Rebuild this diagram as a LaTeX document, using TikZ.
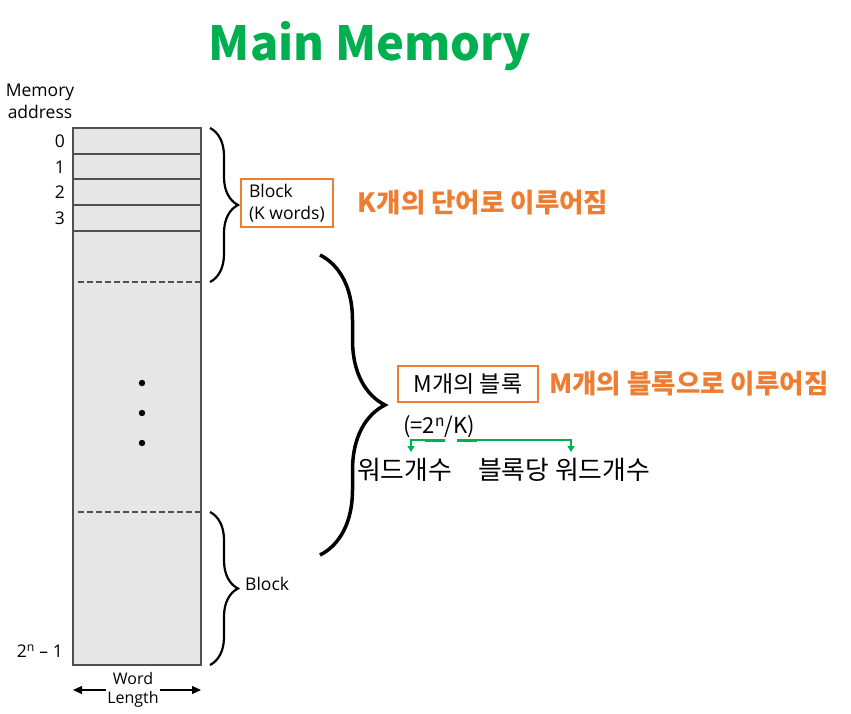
\documentclass[tikz,border=0pt]{standalone}
\usepackage{fontspec}
\setmainfont{Open Sans}
\newfontfamily\kr{Noto Sans CJK KR}
\usetikzlibrary{positioning,arrows.meta,decorations.pathreplacing,calc}
\definecolor{memgreen}{HTML}{00B050}
\definecolor{memorange}{HTML}{ED7D31}
\definecolor{memfill}{HTML}{E6E6E6}
\definecolor{memline}{HTML}{505050}

\begin{document}
\begin{tikzpicture}[
  x=1pt, y=-1pt,
  font=\fontsize{17.5}{22}\selectfont,
  addr/.style={anchor=east, inner sep=0pt},
  row/.style={draw=memline, line width=1.1pt},
  cut/.style={draw=memline, line width=1.1pt, dash pattern=on 5.5pt off 3.5pt},
  brc/.style={decorate, decoration={brace, amplitude=#1}, line width=2.2pt},
  obox/.style={draw=memorange, line width=2pt, inner xsep=5pt, inner ysep=4pt},
  note/.style={font=\kr\bfseries\fontsize{26.5}{28}\selectfont, text=memorange,
               anchor=west, inner sep=0pt},
  kor/.style={font=\kr\fontsize{25.8}{28}\selectfont, inner sep=0pt, anchor=west},
  uline/.style={draw=memgreen, line width=3pt},
  garr/.style={draw=memgreen, line width=2pt, -{Triangle[length=6pt,width=7pt]}},
  larr/.style={-{Triangle[length=9pt,width=8pt]}, line width=1.2pt}
]
\useasboundingbox (0,0) rectangle (851,714);

% title
\node[font=\kr\bfseries\fontsize{47}{52}\selectfont, text=memgreen] (title)
  at (370,46) {Main Memory};

% memory column
\node[align=center, inner sep=0pt] (addrhead) at (40,101) {Memory\\address};
\draw[draw=memline, fill=memfill, line width=1.2pt] (73,128) rectangle (201,665);
\foreach \y in {154,179,205,231}
  \draw[row] (73,\y) -- (201,\y);
\draw[cut] (78,282) -- (201,282);
\draw[cut] (78,512) -- (201,512);
\foreach \a/\y in {0/141,1/167,2/192,3/218}
  \node[addr] (a\a) at (65,\y) {\a};
\node[addr] (alast) at (63,651) {2\textsuperscript{n} – 1};
\foreach \y in {383,413,443}
  \fill (142,\y) circle (3.2pt);

% word length
\node[align=center, inner sep=1.5pt, font=\fontsize{16}{19}\selectfont] (wlen)
  at (133,690) {Word\\Length};
\coordinate (wl) at (73,690);
\coordinate (wr) at (201,690);
\draw[larr] (wlen.west) -- (wl);
\draw[larr] (wlen.east) -- (wr);

% first block
\draw[brc=28pt] (210,128) -- (210,282);
\node[obox, anchor=west, align=left, inner xsep=8pt, inner ysep=5pt] (blk1)
  at (240,203) {Block\\(K words)};
\node[note, right=24pt of blk1] (note1) {K개의 단어로 이루어짐};

% last block
\draw[brc=28pt] (210,512) -- (210,665);
\node[anchor=west, inner sep=0pt] (blk2) at (245,584) {Block};

% all blocks
\draw[brc=65pt, line width=3.5pt] (320,255) -- (320,555);
\node[obox, anchor=west, minimum width=140pt, minimum height=36pt,
      font=\kr\fontsize{23}{25}\selectfont] (mblk) at (397,384) {M개의 블록};
\node[note, right=10pt of mblk] (note2) {M개의 블록으로 이루어짐};
\node[anchor=west, inner sep=0pt, font=\kr\fontsize{22}{24}\selectfont] (ratio)
  at (403,427) {(=2\textsuperscript{n}/K)};

\node[kor] (cnt1) at (357,470) {워드개수};
\node[kor] (cnt2) at (478,470) {블록당 워드개수};
\coordinate (pw) at (445,440);
\coordinate (kk) at (457,440);
\coordinate (t1) at (411,452);
\coordinate (t2) at (571,452);
\draw[uline] (425,440) -- (pw);
\draw[uline] (kk) -- (477,440);
\draw[garr] (pw) -- (pw -| t1) -- (t1);
\draw[garr] (kk) -- (kk -| t2) -- (t2);
\end{tikzpicture}
\end{document}
